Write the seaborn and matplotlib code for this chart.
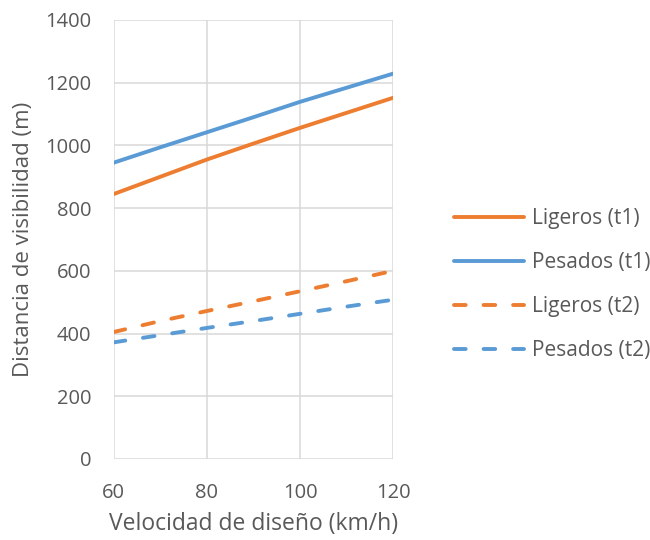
import numpy as np
import pandas as pd
import matplotlib
matplotlib.use("Agg")
import matplotlib.pyplot as plt
import seaborn as sns

# Design speed (km/h)
velocidad = [60, 70, 80, 90, 100, 110, 120]

# Sight distance (m) per vehicle type and reaction time
ligeros_t1 = [845, 900, 955, 1006, 1056, 1104, 1152]
pesados_t1 = [945, 994, 1042, 1090, 1139, 1184, 1229]
ligeros_t2 = [405, 440, 472, 503, 535, 567, 600]
pesados_t2 = [372, 395, 418, 440, 463, 486, 508]

series_names = ["Ligeros (t1)", "Pesados (t1)", "Ligeros (t2)", "Pesados (t2)"]
series_values = [ligeros_t1, pesados_t1, ligeros_t2, pesados_t2]

y_ticks = [0, 200, 400, 600, 800, 1000, 1200, 1400]
x_ticks = [60, 80, 100, 120]

ORANGE = "#ED7D31"
BLUE = "#5B9BD5"
TEXT = "#595959"
GRID = "#D9D9D9"

df = pd.DataFrame(
    [(v, d, name) for name, vals in zip(series_names, series_values)
     for v, d in zip(velocidad, vals)],
    columns=["Velocidad", "Distancia", "Serie"],
)

sns.set_theme(style="whitegrid")
plt.rcParams["font.family"] = ["Open Sans", "DejaVu Sans"]
plt.rcParams["lines.dash_capstyle"] = "round"

fig = plt.figure(figsize=(6.5, 5.4), dpi=100)
ax = fig.add_axes([0.175, 0.150, 0.430, 0.813])

palette = {"Ligeros (t1)": ORANGE, "Pesados (t1)": BLUE,
           "Ligeros (t2)": ORANGE, "Pesados (t2)": BLUE}
dashes = {"Ligeros (t1)": "", "Pesados (t1)": "",
          "Ligeros (t2)": (3.0, 4.6), "Pesados (t2)": (3.0, 4.6)}

sns.lineplot(data=df, x="Velocidad", y="Distancia", hue="Serie",
             style="Serie", palette=palette, dashes=dashes,
             hue_order=series_names, style_order=series_names,
             linewidth=2.8, ax=ax, legend=True)

ax.set_xlim(60, 120)
ax.set_ylim(0, 1400)
ax.set_xticks(x_ticks)
ax.set_yticks(y_ticks)
ax.grid(True, color=GRID, linewidth=1.1)
for s in ax.spines.values():
    s.set_visible(False)
ax.tick_params(axis="both", colors=TEXT, labelsize=14.5, length=0, pad=16)
ax.tick_params(axis="x", pad=17)

ax.set_xlabel("Velocidad de diseño (km/h)", fontsize=16.5, color=TEXT, labelpad=7)
ax.set_ylabel("Distancia de visibilidad (m)", fontsize=16, color=TEXT, labelpad=8)

handles, labels = ax.get_legend_handles_labels()
ax.legend(handles, labels, loc="center left", bbox_to_anchor=(0.669, 0.473),
          bbox_transform=fig.transFigure, frameon=False, fontsize=15,
          labelcolor=TEXT, handlelength=3.4, handletextpad=0.35,
          labelspacing=1.1)

fig.savefig("out.png", dpi=100)
